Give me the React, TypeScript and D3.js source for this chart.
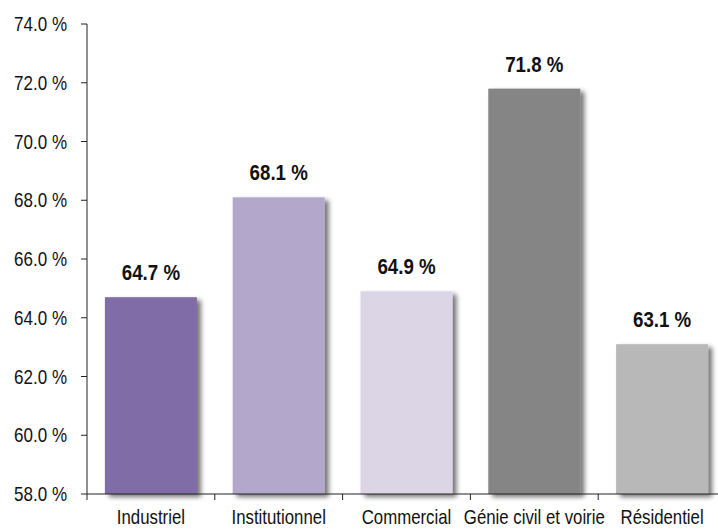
import React from "react";
import * as d3 from "d3";

const categories = ["Industriel", "Institutionnel", "Commercial", "Génie civil et voirie", "Résidentiel"];
const values = [64.7, 68.1, 64.9, 71.8, 63.1];
const colors = ["#806ca6", "#b3a8cb", "#dbd5e6", "#858585", "#b8b8b8"];
const yTicks = [58, 60, 62, 64, 66, 68, 70, 72, 74];

const W = 718;
const H = 529;
const FONT = "'Liberation Sans', Arial, sans-serif";

function NText(props: { x: number; y: number; sx: number; size: number; anchor: string; bold?: boolean; children: React.ReactNode }) {
  return (
    <text
      transform={`translate(${props.x},${props.y}) scale(${props.sx},1)`}
      textAnchor={props.anchor as any}
      fontSize={props.size}
      fontWeight={props.bold ? "bold" : "normal"}
      fill="#111"
    >
      {props.children}
    </text>
  );
}

export default function App() {
  const x = d3.scaleBand<string>().domain(categories).range([87, 726]).paddingInner(0.28).paddingOuter(0.14);
  const y = d3.scaleLinear().domain([58, 74]).range([494, 24]);
  const fmt = (v: number) => `${v.toFixed(1)} %`;
  const step = x.step();

  return (
    <svg width={W} height={H} style={{ position: "absolute", left: 0, top: 0, background: "#fff" }} fontFamily={FONT}>
      <defs>
        <filter id="sh" x="-20%" y="-20%" width="150%" height="150%">
          <feGaussianBlur in="SourceAlpha" stdDeviation="2.5" />
          <feOffset dx="4" dy="3" result="b" />
          <feComponentTransfer><feFuncA type="linear" slope="0.55" /></feComponentTransfer>
          <feMerge>
            <feMergeNode />
            <feMergeNode in="SourceGraphic" />
          </feMerge>
        </filter>
      </defs>
      {categories.map((c, i) => {
        const cx = (x(c) as number) + x.bandwidth() / 2;
        return (
          <g key={c}>
            <rect x={x(c)} y={y(values[i])} width={x.bandwidth()} height={y(58) - y(values[i])} fill={colors[i]} filter="url(#sh)" />
            <NText x={cx} y={y(values[i]) - 17} sx={0.85} size={22} anchor="middle" bold>
              {fmt(values[i])}
            </NText>
            <NText x={cx} y={524} sx={0.82} size={20.5} anchor="middle">
              {c}
            </NText>
          </g>
        );
      })}
      <line x1={87} x2={87} y1={24} y2={494} stroke="#222" strokeWidth={1} />
      <line x1={87} x2={726} y1={494} y2={494} stroke="#222" strokeWidth={1} />
      {yTicks.map((t) => (
        <g key={t}>
          <line x1={81} x2={87} y1={y(t)} y2={y(t)} stroke="#222" />
          <NText x={67} y={y(t) + 7} sx={0.85} size={20} anchor="end">{fmt(t)}</NText>
        </g>
      ))}
      {d3.range(categories.length + 1).map((i) => (
        <line key={i} x1={87 + i * step} x2={87 + i * step} y1={494} y2={500} stroke="#222" />
      ))}
    </svg>
  );
}
